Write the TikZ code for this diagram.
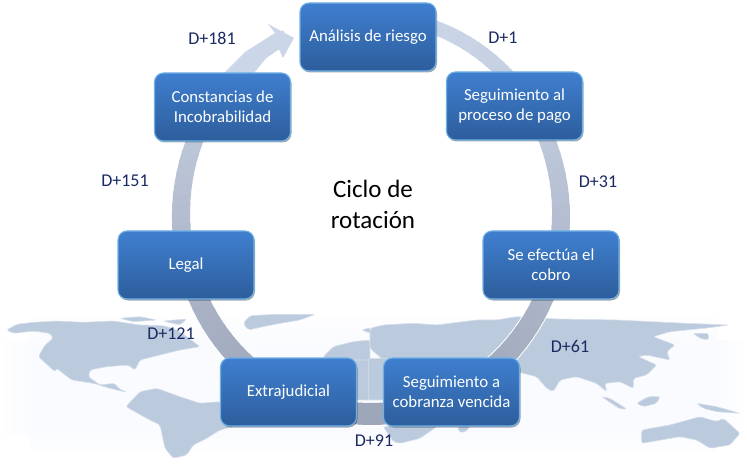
\documentclass[tikz,border=0pt]{standalone}
\usepackage{fontspec}
\setmainfont{Carlito}
\usetikzlibrary{shadows,calc}
\definecolor{mapc}{HTML}{BBCADD}
\definecolor{lab}{HTML}{1B2A63}
\definecolor{boxtop}{HTML}{3F7FCF}
\definecolor{boxbot}{HTML}{2D5D9C}
\definecolor{boxedge}{HTML}{6FB0E6}
\definecolor{ringtop}{HTML}{CBD6E8}
\definecolor{ringbot}{HTML}{9EA6B9}
\definecolor{haze}{HTML}{FAFBFE}
\tikzset{
  stagebox/.style={rounded corners=9pt,minimum width=136pt,minimum height=68pt,
    align=center,text=white,font=\fontsize{16.8}{20}\selectfont,
    top color=boxtop,bottom color=boxbot,draw=boxedge,line width=1.1pt,
    drop shadow={shadow xshift=1pt,shadow yshift=-1.5pt,opacity=.35,fill=black},
    path picture={
      \fill[white,opacity=.25] ($(path picture bounding box.north west)+(0,-1)$) rectangle ($(path picture bounding box.north east)+(0,-5)$);
      \fill[white,opacity=.8] ($(path picture bounding box.south west)+(0,9)$) to[out=-60,in=170] ($(path picture bounding box.south west)+(8,0)$) -- (path picture bounding box.south west) -- cycle;
    }},
  daylabel/.style={text=lab,font=\fontsize{18}{20}\selectfont},
  land/.style={fill=mapc,draw=mapc!60,line width=.6pt,rounded corners=2pt}
}
\begin{document}
\begin{tikzpicture}[x=1pt,y=-1pt]
\useasboundingbox (0,0) rectangle (747,465);
\shade[left color=white,right color=haze] (0,340) rectangle (30,435);
\fill[haze] (30,340) rectangle (717,435);
\shade[left color=haze,right color=white] (717,340) rectangle (747,435);
\shade[top color=white,bottom color=haze] (30,312) rectangle (717,340);
\shade[top color=haze,bottom color=white] (30,435) rectangle (717,456);
% world map, west half
\begin{scope}[shift={(0,305)},x=0.3333pt,y=-0.3333pt]
\fill[land] (20,75) -- (50,58) -- (100,52) -- (170,48) -- (250,52) -- (340,48) -- (420,60) -- (490,62) -- (530,75) -- (560,95) -- (600,125) -- (540,135) -- (480,150) -- (420,165) -- (405,195) -- (385,180) -- (320,185) -- (270,195) -- (265,215) -- (300,240) -- (345,235) -- (355,250) -- (380,262) -- (330,250) -- (280,235) -- (215,225) -- (170,190) -- (165,200) -- (115,155) -- (135,120) -- (160,100) -- (150,85) -- (100,78) -- (40,85) -- cycle;
\fill[land] (360,40) -- (420,35) -- (470,45) -- (400,50) -- cycle;
\fill[land] (490,48) -- (560,42) -- (540,60) -- cycle;
\fill[land] (730,55) -- (750,32) -- (830,28) -- (945,28) -- (900,45) -- (840,55) -- (790,65) -- (745,75) -- cycle;
\fill[land] (378,305) -- (420,260) -- (470,250) -- (540,275) -- (600,295) -- (660,290) -- (720,360) -- (660,375) -- (620,400) -- (580,420) -- (560,450) -- (520,460) -- (495,430) -- (480,360) -- (440,340) -- cycle;
\fill[land] (970,155) -- (1000,125) -- (1060,110) -- (1110,105) -- (1110,170) -- (970,170) -- cycle;
\fill[land] (1085,75) -- (1112,68) -- (1112,85) -- cycle;
\fill[land] (1040,165) -- (1112,165) -- (1112,285) -- (1040,285) -- cycle;
\end{scope}
% world map, east half
\begin{scope}[shift={(370,305)},x=0.3333pt,y=-0.3333pt]
\fill[land] (0,70) -- (40,60) -- (130,55) -- (200,60) -- (320,45) -- (380,45) -- (440,35) -- (560,42) -- (740,45) -- (950,55) -- (1075,60) -- (1020,68) -- (900,80) -- (850,95) -- (915,120) -- (890,140) -- (900,165) -- (830,150) -- (805,155) -- (860,180) -- (830,210) -- (790,220) -- (790,250) -- (750,230) -- (705,235) -- (710,260) -- (680,235) -- (620,215) -- (570,225) -- (550,260) -- (530,250) -- (500,215) -- (440,200) -- (300,170) -- (40,165) -- (0,130) -- cycle;
\fill[land] (-5,160) -- (60,160) -- (60,285) -- (-5,285) -- cycle;
\fill[land] (40,365) -- (200,365) -- (150,400) -- (90,415) -- (70,410) -- cycle;
\fill[land] (265,365) -- (300,365) -- (285,382) -- (265,380) -- cycle;
\fill[land] (970,85) -- (1015,85) -- (1015,105) -- (990,100) -- cycle;
\fill[land] (695,275) -- (720,280) -- (770,312) -- (750,312) -- cycle;
\fill[land] (800,295) -- (835,275) -- (870,275) -- (860,295) -- (820,305) -- cycle;
\fill[land] (980,295) -- (1040,305) -- (1110,325) -- (1040,320) -- (1000,310) -- cycle;
\fill[land] (815,375) -- (900,360) -- (990,335) -- (1040,350) -- (1060,340) -- (1110,385) -- (1080,420) -- (1020,430) -- (980,405) -- (930,395) -- (815,415) -- cycle;
\end{scope}
% ring
\def\cxr{371}\def\cyr{215}\def\rxr{190}\def\ryr{199}
\foreach \a in {-72,-69,...,240}{
  \pgfmathsetmacro{\t}{(1+sin(\a))/2}
  \pgfmathsetmacro{\w}{14+8*\t}
  \pgfmathsetmacro{\wb}{\w+2}
  \pgfmathsetmacro{\e}{\a+3.6}
  \draw[white,line width=\wb pt] ({\cxr+\rxr*cos(\a)},{\cyr+\ryr*sin(\a)}) arc[start angle=-\a,end angle=-\e,x radius=\rxr pt,y radius=\ryr pt];
}
\foreach \a in {-72,-69,...,240}{
  \pgfmathsetmacro{\t}{(1+sin(\a))/2}
  \pgfmathsetmacro{\w}{14+8*\t}
  \pgfmathsetmacro{\mx}{100*(1-\t)}
  \pgfmathsetmacro{\e}{\a+3.6}
  \colorlet{segc}{ringtop!\mx!ringbot}
  \draw[segc,line width=\w pt] ({\cxr+\rxr*cos(\a)},{\cyr+\ryr*sin(\a)}) arc[start angle=-\a,end angle=-\e,x radius=\rxr pt,y radius=\ryr pt];
}
% arrow head
\fill[ringtop] (223,74) -- (245,52) -- (275,33) -- (268,24) -- (294,38) -- (283,58) -- (278,47) -- (268,56) -- (253,74) -- cycle;
% stages
\node[stagebox] (risk) at (368,37) {Análisis de riesgo};
\node[stagebox] (pay) at (514.5,106) {Seguimiento al\\proceso de pago};
\node[stagebox] (collect) at (551,265) {Se efectúa el\\cobro};
\node[stagebox] (overdue) at (451.5,392) {Seguimiento a\\cobranza vencida};
\node[stagebox] (extra) at (288.5,392) {Extrajudicial};
\node[stagebox] (legal) at (186,265) {Legal};
\node[stagebox] (cert) at (222.5,107) {Constancias de\\Incobrabilidad};
% day labels
\node[daylabel] (d181) at (212,38) {D+181};
\node[daylabel] (d1) at (503,38) {D+1};
\node[daylabel] (d31) at (598,182) {D+31};
\node[daylabel] (d61) at (570,346) {D+61};
\node[daylabel] (d91) at (374,441) {D+91};
\node[daylabel] (d121) at (171,334) {D+121};
\node[daylabel] (d151) at (125,181) {D+151};
\node[align=center,text=black,font=\fontsize{25}{31}\selectfont] (title) at (373,204) {Ciclo de\\rotación};
\end{tikzpicture}
\end{document}
